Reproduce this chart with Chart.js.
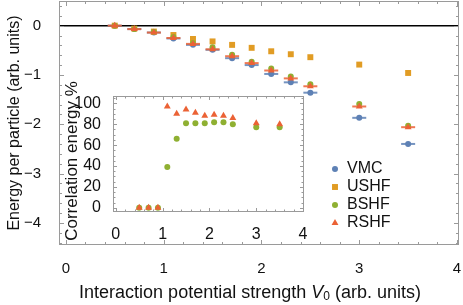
<!DOCTYPE html>
<html>
<head>
<meta charset="utf-8">
<script src="https://cdn.jsdelivr.net/npm/chart.js@4.4.1/dist/chart.umd.min.js"></script>
<style>
  html, body { margin: 0; padding: 0; background: #fff; }
  #wrap { position: relative; width: 463px; height: 305px; overflow: hidden; }
  #main { position: absolute; left: 0; top: 0; }
  #inset { position: absolute; left: 55px; top: 70px; }
</style>
</head>
<body>
<div id="wrap">
  <canvas id="main" width="463" height="305"></canvas>
  <canvas id="inset" width="260" height="183"></canvas>
</div>
<script>
// values
const v0 = [0.5, 0.7, 0.9, 1.1, 1.3, 1.5, 1.7, 1.9, 2.1, 2.3, 2.5, 3.0, 3.5];
const vmc  = [0.0, -0.07, -0.14, -0.26, -0.39, -0.49, -0.66, -0.80, -0.98, -1.15, -1.36, -1.87, -2.40];
const ushf = [0.0, -0.06, -0.12, -0.19, -0.27, -0.32, -0.39, -0.45, -0.52, -0.58, -0.64, -0.79, -0.96];
const bshf = [0.0, -0.07, -0.13, -0.23, -0.35, -0.44, -0.59, -0.73, -0.87, -1.03, -1.19, -1.59, -2.03];
const rshf = [0.0, -0.07, -0.14, -0.25, -0.37, -0.48, -0.62, -0.76, -0.91, -1.07, -1.23, -1.64, -2.06];

// inset: correlation energy in %
const corrB = [0, 0, 0, 39, 66, 81, 81, 81, 82, 82, 80, 77, 77];
const corrR = [0, 0, 0, 97, 90, 94, 91, 88, 89, 88, 86, 81, 80];

const xTicks = [0, 1, 2, 3, 4];
const yTicks = [0, -1, -2, -3, -4];
const insetXTicks = [0, 1, 2, 3, 4];
const insetYTicks = [0, 20, 40, 60, 80, 100];

const BLUE = '#5E81B5', ORANGE = '#E19C24', GREEN = '#8FB032', RED = '#EB6235';
const FONT = "'Liberation Sans', Arial, sans-serif";
const FRAME = '#9a9a9a';

function pts(ys) {
    return v0.map((x, i) => ({ x: x, y: ys[i] }));
}

function minus(v) {
    return v < 0 ? '\u2212' + Math.abs(v) : String(v);
}

function fixSize(w, h) {
    return s => {
        if (w != null) s.width = w;
        if (h != null) s.height = h;
    };
}

// pin the plot area where the figure has it (chart.js keeps room for edge labels otherwise)
const pinArea = {
    id: 'pinArea',
    afterLayout(chart, args, opts) {
        const a = chart.chartArea;
        a.left = opts.left; a.top = opts.top; a.right = opts.right; a.bottom = opts.bottom;
        a.width = a.right - a.left; a.height = a.bottom - a.top;
        const { x, y } = chart.scales;
        x.left = a.left; x.right = a.right; x.width = a.width;
        y.top = a.top; y.bottom = a.bottom; y.height = a.height;
        x.configure(); y.configure();
    }
};

// frame with inward ticks on all four sides
const framePlugin = {
    id: 'frame',
    afterDraw(chart, args, opts) {
        const { ctx, chartArea: a, scales } = chart;
        const x = scales.x, y = scales.y;
        ctx.save();
        ctx.strokeStyle = FRAME;
        ctx.lineWidth = 1;
        ctx.strokeRect(Math.round(a.left) + 0.5, Math.round(a.top) + 0.5,
                       Math.round(a.right - a.left) - 1, Math.round(a.bottom - a.top) - 1);
        ctx.beginPath();
        const eps = 1e-6;
        for (let v = Math.ceil(x.min / opts.xMinor) * opts.xMinor; v <= x.max + eps; v += opts.xMinor) {
            const major = Math.abs(v - Math.round(v / opts.xMajor) * opts.xMajor) < eps;
            const len = major ? opts.major : opts.minor;
            const px = Math.round(x.getPixelForValue(v)) + 0.5;
            ctx.moveTo(px, a.bottom); ctx.lineTo(px, a.bottom - len);
            ctx.moveTo(px, a.top); ctx.lineTo(px, a.top + len);
        }
        for (let v = Math.ceil(y.min / opts.yMinor) * opts.yMinor; v <= y.max + eps; v += opts.yMinor) {
            const major = Math.abs(v - Math.round(v / opts.yMajor) * opts.yMajor) < eps;
            const len = major ? opts.major : opts.minor;
            const py = Math.round(y.getPixelForValue(v)) + 0.5;
            ctx.moveTo(a.left, py); ctx.lineTo(a.left + len, py);
            ctx.moveTo(a.right, py); ctx.lineTo(a.right - len, py);
        }
        ctx.stroke();
        ctx.restore();
    }
};

// black zero axis line
const zeroLine = {
    id: 'zeroLine',
    beforeDatasetsDraw(chart) {
        const { ctx, chartArea: a, scales: { y } } = chart;
        const py = y.getPixelForValue(0);
        ctx.save();
        ctx.strokeStyle = '#000';
        ctx.lineWidth = 1.5;
        ctx.beginPath();
        ctx.moveTo(a.left, py); ctx.lineTo(a.right, py);
        ctx.stroke();
        ctx.restore();
    }
};

// x title with italic V and subscript 0
const xTitle = {
    id: 'xTitle',
    afterDraw(chart) {
        const ctx = chart.ctx;
        const parts = [
            { t: 'Interaction potential strength ', f: '18px ' + FONT, dy: 0 },
            { t: 'V', f: 'italic 18px ' + FONT, dy: 0 },
            { t: '0', f: '12px ' + FONT, dy: 4 },
            { t: ' (arb. units)', f: '18px ' + FONT, dy: 0 }
        ];
        ctx.save();
        let w = 0;
        parts.forEach(p => { ctx.font = p.f; p.w = ctx.measureText(p.t).width; w += p.w; });
        let x = 250 - w / 2;
        const y = 293;
        ctx.fillStyle = '#111';
        ctx.textBaseline = 'middle';
        parts.forEach(p => { ctx.font = p.f; ctx.fillText(p.t, x, y + p.dy); x += p.w; });
        ctx.restore();
    }
};

// inset y title, sitting a little below the frame centre as in the figure
const insetTitle = {
    id: 'insetTitle',
    afterDraw(chart) {
        const ctx = chart.ctx;
        ctx.save();
        ctx.translate(17, 91);
        ctx.rotate(-Math.PI / 2);
        ctx.font = '17px ' + FONT;
        ctx.fillStyle = '#111';
        ctx.textAlign = 'center';
        ctx.textBaseline = 'middle';
        ctx.fillText('Correlation energy %', 0, 0);
        ctx.restore();
    }
};

// legend inside the plot
const legendItems = [
    { label: 'VMC', color: BLUE, style: 'circle', r: 3 },
    { label: 'USHF', color: ORANGE, style: 'rect', r: 4.2 },
    { label: 'BSHF', color: GREEN, style: 'circle', r: 3 },
    { label: 'RSHF', color: RED, style: 'triangle', r: 4 }
];
const legendPlugin = {
    id: 'insideLegend',
    afterDraw(chart) {
        const ctx = chart.ctx;
        ctx.save();
        ctx.font = '16px ' + FONT;
        ctx.textBaseline = 'middle';
        legendItems.forEach((it, i) => {
            const y = 169 + i * 18;
            ctx.fillStyle = it.color;
            ctx.strokeStyle = it.color;
            Chart.helpers.drawPoint(ctx, { pointStyle: it.style, radius: it.r, rotation: 0, borderWidth: 0 }, 335, y);
            ctx.fillStyle = '#111';
            ctx.fillText(it.label, 347, y);
        });
        ctx.restore();
    }
};

const tickFont = { family: FONT, size: 15 };
const insetTickFont = { family: FONT, size: 16 };

new Chart(document.getElementById('main'), {
    type: 'scatter',
    data: {
        datasets: [
            { data: pts(rshf), pointStyle: 'triangle', radius: 4, backgroundColor: RED, borderColor: RED, borderWidth: 0 },
            { data: pts(rshf), pointStyle: 'line', radius: 7, borderColor: 'rgba(235,98,53,0.85)', borderWidth: 2 },
            { data: pts(bshf), pointStyle: 'circle', radius: 3, backgroundColor: GREEN, borderColor: GREEN, borderWidth: 0 },
            { data: pts(ushf), pointStyle: 'rect', radius: 4.2, backgroundColor: ORANGE, borderColor: ORANGE, borderWidth: 0 },
            { data: pts(vmc), pointStyle: 'circle', radius: 3, backgroundColor: BLUE, borderColor: BLUE, borderWidth: 0 },
            { data: pts(vmc), pointStyle: 'line', radius: 7, borderColor: 'rgba(94,129,181,0.85)', borderWidth: 2 }
        ]
    },
    options: {
        responsive: false,
        animation: false,
        events: [],
        layout: { padding: { top: 1, right: 4, left: 0, bottom: 0 } },
        plugins: {
            legend: { display: false },
            tooltip: { enabled: false },
            pinArea: { left: 59, top: 1, right: 459, bottom: 245 },
            frame: { xMajor: 1, xMinor: 0.2, yMajor: 1, yMinor: 0.2, major: 5, minor: 3 }
        },
        scales: {
            x: {
                type: 'linear', min: -0.07, max: 4.02,
                grid: { display: false }, border: { display: false },
                afterBuildTicks: s => { s.ticks = xTicks.map(v => ({ value: v })); },
                afterFit: fixSize(null, 60),
                ticks: { padding: 7, color: '#111', font: tickFont, maxRotation: 0, autoSkip: false, callback: v => minus(v) }
            },
            y: {
                type: 'linear', min: -4.45, max: 0.5,
                grid: { display: false }, border: { display: false },
                afterBuildTicks: s => { s.ticks = yTicks.map(v => ({ value: v })); },
                afterFit: fixSize(59, null),
                ticks: { padding: 10, color: '#111', font: tickFont, autoSkip: false, callback: v => minus(v) },
                title: { display: true, text: 'Energy per particle (arb. units)', color: '#111',
                         font: { family: FONT, size: 16 }, padding: { top: 5, bottom: 0 } }
            }
        }
    },
    plugins: [pinArea, framePlugin, zeroLine, xTitle, legendPlugin]
});

new Chart(document.getElementById('inset'), {
    type: 'scatter',
    data: {
        datasets: [
            { data: v0.map((x, i) => ({ x: x, y: corrR[i] })), pointStyle: 'triangle', radius: 4, backgroundColor: RED, borderColor: RED, borderWidth: 0 },
            { data: v0.map((x, i) => ({ x: x, y: corrB[i] })), pointStyle: 'circle', radius: 3, backgroundColor: GREEN, borderColor: GREEN, borderWidth: 0 }
        ]
    },
    options: {
        responsive: false,
        animation: false,
        events: [],
        layout: { padding: { top: 26, right: 11, left: 0, bottom: 0 } },
        plugins: {
            legend: { display: false },
            tooltip: { enabled: false },
            pinArea: { left: 58, top: 26, right: 249, bottom: 142 },
            frame: { xMajor: 1, xMinor: 0.2, yMajor: 20, yMinor: 5, major: 4, minor: 2.5 }
        },
        scales: {
            x: {
                type: 'linear', min: -0.06, max: 4.02,
                grid: { display: false }, border: { display: false },
                afterBuildTicks: s => { s.ticks = insetXTicks.map(v => ({ value: v })); },
                afterFit: fixSize(null, 41),
                ticks: { padding: 5, color: '#111', font: insetTickFont, maxRotation: 0, autoSkip: false }
            },
            y: {
                type: 'linear', min: -4, max: 107,
                grid: { display: false }, border: { display: false },
                afterBuildTicks: s => { s.ticks = insetYTicks.map(v => ({ value: v })); },
                afterFit: fixSize(58, null),
                ticks: { padding: 4, color: '#111', font: insetTickFont, autoSkip: false }
            }
        }
    },
    plugins: [pinArea, framePlugin, insetTitle]
});
</script>
</body>
</html>
